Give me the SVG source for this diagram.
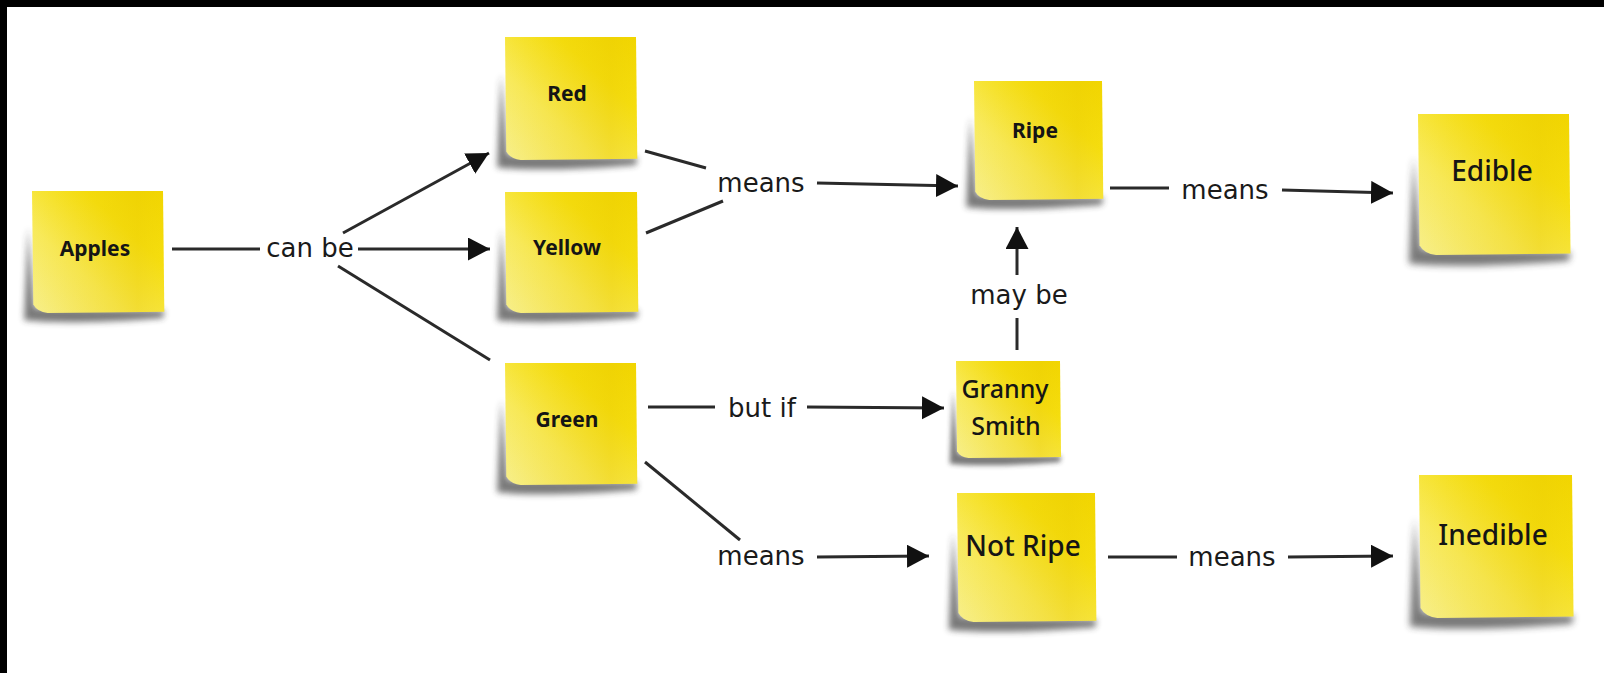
<svg xmlns="http://www.w3.org/2000/svg" xmlns:xlink="http://www.w3.org/1999/xlink" width="1604" height="673" viewBox="0 0 1604 673">
<style>
.lbl{font-family:"DejaVu Sans","Liberation Sans",sans-serif;font-size:26px;fill:#1a1a1a;text-anchor:middle}
.nt{font-family:"Noto Sans","Liberation Sans",sans-serif;fill:#151515;text-anchor:middle}
.sm{font-size:21px;font-weight:bold}
.lg{font-size:28px;font-weight:500}
.ln{stroke:#2a2a2a;stroke-width:3;fill:none}
.ar{marker-end:url(#arrow)}
</style>
<defs>
<marker id="arrow" markerUnits="userSpaceOnUse" markerWidth="24" markerHeight="24" refX="22" refY="11.5" orient="auto">
<path d="M0,0 L22,11.5 L0,23 Z" fill="#111"/>
</marker>
<linearGradient id="ng" x1="1" y1="0" x2="0" y2="1">
<stop offset="0" stop-color="#f2d600"/>
<stop offset="0.3" stop-color="#f6df10"/>
<stop offset="0.65" stop-color="#f8ea5c"/>
<stop offset="1" stop-color="#f7ef8c"/>
</linearGradient>
<linearGradient id="sheen" x1="0" y1="0" x2="1" y2="0">
<stop offset="0" stop-color="#e8c800" stop-opacity="0"/>
<stop offset="0.8" stop-color="#e8c800" stop-opacity="0.35"/>
<stop offset="1" stop-color="#e8c800" stop-opacity="0.05"/>
</linearGradient>
<filter id="blur" x="-20%" y="-20%" width="140%" height="140%">
<feGaussianBlur stdDeviation="2.5"/>
</filter>
<g id="note">
<path d="M-3,30 L-6,106 Q30,110 100,104 L101,98 L2,96 Z" fill="#333" opacity="0.65" filter="url(#blur)"/>
<path d="M0,0 L100,0 L101,99 L12,100 Q4,99 1,93 Z" fill="url(#ng)"/>
<path d="M0,0 L100,0 L101,99 L12,100 Q4,99 1,93 Z" fill="url(#sheen)"/>
</g>
</defs>
<rect x="0" y="0" width="1604" height="673" fill="#ffffff"/>
<rect x="0" y="0" width="1604" height="7" fill="#000"/>
<rect x="0" y="0" width="7" height="673" fill="#000"/>

<g id="connectors">
<line class="ln" x1="172" y1="249" x2="260" y2="249"/>
<line class="ln ar" x1="358" y1="249" x2="490" y2="249"/>
<line class="ln ar" x1="343" y1="233" x2="489" y2="153"/>
<line class="ln" x1="338" y1="266" x2="490" y2="360"/>
<line class="ln" x1="645" y1="151" x2="706" y2="168"/>
<line class="ln" x1="646" y1="233" x2="723" y2="201"/>
<line class="ln ar" x1="817" y1="183" x2="958" y2="186"/>
<line class="ln" x1="1110" y1="188" x2="1169" y2="188"/>
<line class="ln ar" x1="1282" y1="190" x2="1393" y2="193"/>
<line class="ln" x1="1017" y1="350" x2="1017" y2="318"/>
<line class="ln ar" x1="1017" y1="275" x2="1017" y2="227"/>
<line class="ln" x1="648" y1="407" x2="715" y2="407"/>
<line class="ln ar" x1="807" y1="407" x2="944" y2="408"/>
<line class="ln" x1="645" y1="462" x2="740" y2="540"/>
<line class="ln ar" x1="817" y1="557" x2="929" y2="556"/>
<line class="ln" x1="1108" y1="557" x2="1177" y2="557"/>
<line class="ln ar" x1="1288" y1="557" x2="1393" y2="556"/>
<text class="lbl" x="310" y="257">can be</text>
<text class="lbl" x="761" y="192">means</text>
<text class="lbl" x="1225" y="199">means</text>
<text class="lbl" x="1019" y="304">may be</text>
<text class="lbl" x="762" y="417">but if</text>
<text class="lbl" x="761" y="565">means</text>
<text class="lbl" x="1232" y="566">means</text>
</g>

<g id="apples">
<use xlink:href="#note" transform="translate(32 191) scale(1.31 1.22)"/>
<text class="nt sm" x="95" y="256">Apples</text>
</g>
<g id="red">
<use xlink:href="#note" transform="translate(505 37) scale(1.31 1.23)"/>
<text class="nt sm" x="567" y="101">Red</text>
</g>
<g id="yellow">
<use xlink:href="#note" transform="translate(505 192) scale(1.32 1.21)"/>
<text class="nt sm" x="567" y="255">Yellow</text>
</g>
<g id="green">
<use xlink:href="#note" transform="translate(505 363) scale(1.31 1.22)"/>
<text class="nt sm" x="567" y="427">Green</text>
</g>
<g id="ripe">
<use xlink:href="#note" transform="translate(974 81) scale(1.28 1.19)"/>
<text class="nt sm" x="1035" y="138">Ripe</text>
</g>
<g id="edible">
<use xlink:href="#note" transform="translate(1418 114) scale(1.51 1.41)"/>
<text class="nt lg" x="1492" y="181">Edible</text>
</g>
<g id="granny-smith">
<use xlink:href="#note" transform="translate(956 361) scale(1.04 0.97)"/>
<text class="nt" font-size="25" font-weight="500" x="1005" y="398">Granny</text>
<text class="nt" font-size="25" font-weight="500" x="1006" y="435">Smith</text>
</g>
<g id="not-ripe">
<use xlink:href="#note" transform="translate(957 493) scale(1.38 1.29)"/>
<text class="nt lg" x="1023" y="556">Not Ripe</text>
</g>
<g id="inedible">
<use xlink:href="#note" transform="translate(1419 475) scale(1.53 1.43)"/>
<text class="nt lg" x="1493" y="545">Inedible</text>
</g>
</svg>
